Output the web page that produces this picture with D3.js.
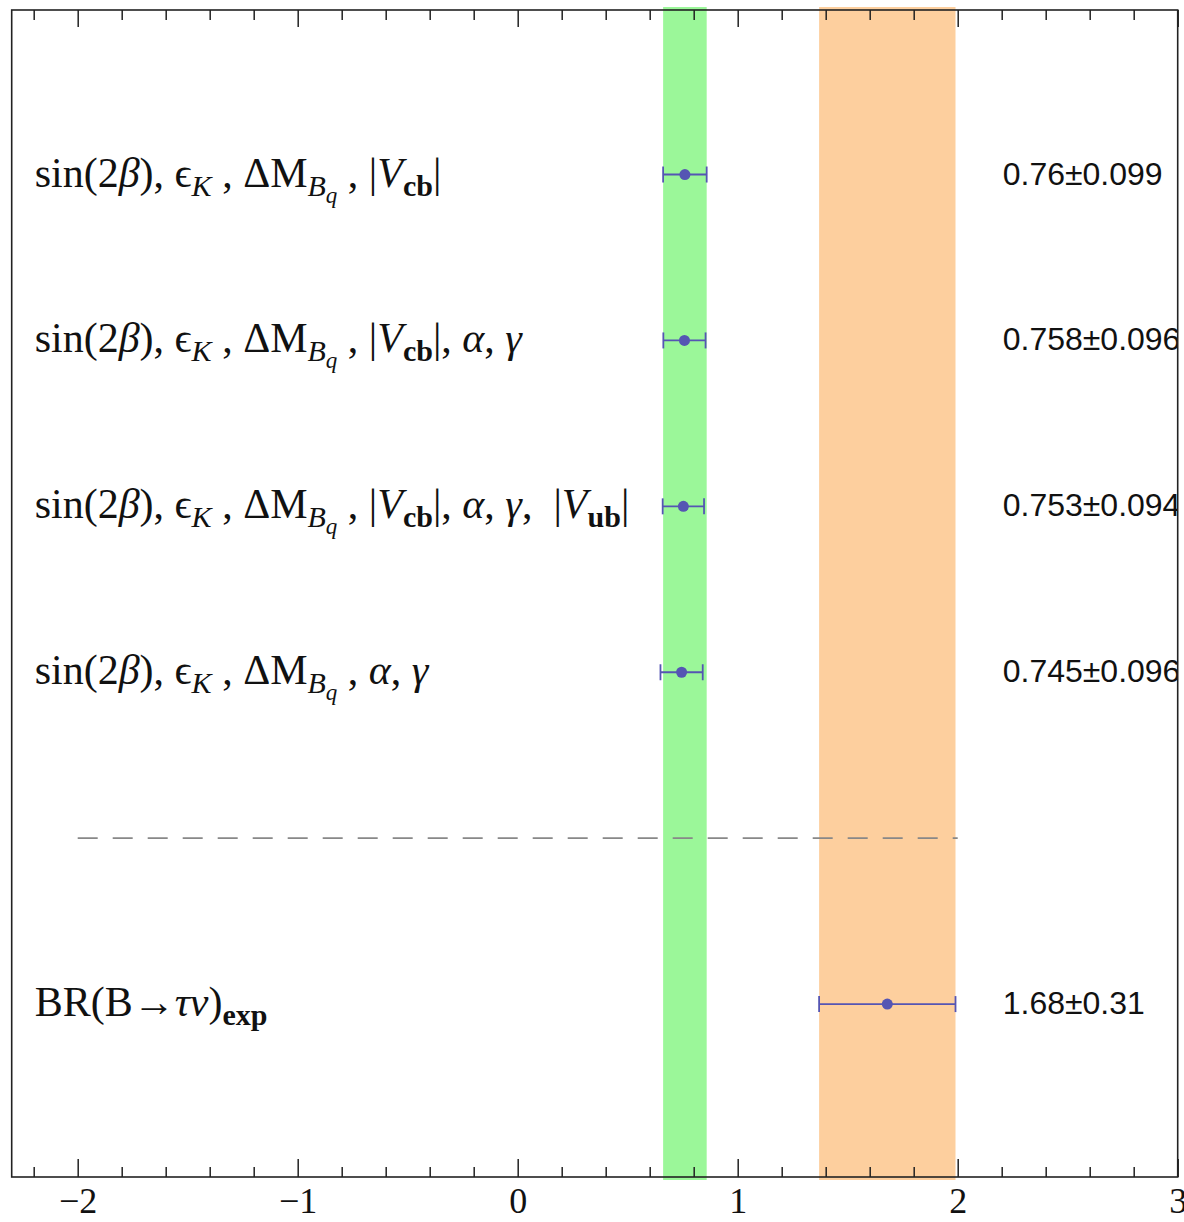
<!DOCTYPE html>
<html>
<head>
<meta charset="utf-8">
<script src="https://cdn.jsdelivr.net/npm/d3@7"></script>
<style>
  body { margin: 0; background: #fff; }
</style>
</head>
<body>
<div id="chart"></div>
<script>
// row labels, light markup: *..* italic, _{..} subscript, !{..} bold
var labels = [
  "sin(2*β*), ϵ_{*K*} , ΔM_{*B*_{*q*}} , |*V*_{!{cb}}|",
  "sin(2*β*), ϵ_{*K*} , ΔM_{*B*_{*q*}} , |*V*_{!{cb}}|, *α*, *γ*",
  "sin(2*β*), ϵ_{*K*} , ΔM_{*B*_{*q*}} , |*V*_{!{cb}}|, *α*, *γ*,  |*V*_{!{ub}}|",
  "sin(2*β*), ϵ_{*K*} , ΔM_{*B*_{*q*}} , *α*, *γ*",
  "BR(B→*τν*)_{!{exp}}"
];
var rowPos = [6, 5, 4, 3, 1];
var centers = [0.76, 0.758, 0.753, 0.745, 1.68];
var errors = [0.099, 0.096, 0.094, 0.096, 0.31];

// shaded bands
var bandCenters = [0.76, 1.68];
var bandErrors = [0.099, 0.31];
var bandColors = ["#9bf799", "#fdcf9e"];

var separatorY = 2;
var separatorX = [-2, 2];

var majorTicks = [-2, -1, 0, 1, 2, 3];
var minorTicks = d3.range(-11, 15).map(function(i) { return i / 5; })
  .filter(function(v) { return Math.abs(v - Math.round(v)) > 1e-9; });

var W = 1184, H = 1222;
var pLeft = 11.7, pRight = 1177.7, pTop = 10, pBottom = 1177;

var svg = d3.select("#chart").append("svg")
  .attr("width", W)
  .attr("height", H);

var x = d3.scaleLinear().domain([-2.3, 3]).range([pLeft, pRight]);
var y = d3.scaleLinear().domain([0, 7]).range([1170, 8.6]);

svg.append("defs").append("clipPath").attr("id", "plotclip")
  .append("rect")
    .attr("x", pLeft).attr("y", pTop)
    .attr("width", pRight - pLeft).attr("height", pBottom - pTop);

// bands
svg.selectAll(".band")
  .data(bandCenters)
  .enter().append("rect")
    .attr("x", function(d, i) { return x(d - bandErrors[i]); })
    .attr("width", function(d, i) { return x(d + bandErrors[i]) - x(d - bandErrors[i]); })
    .attr("y", pTop - 3)
    .attr("height", pBottom - pTop + 6)
    .attr("fill", function(d, i) { return bandColors[i]; });

// dashed separator
svg.append("line")
  .attr("x1", x(separatorX[0])).attr("x2", x(separatorX[1]))
  .attr("y1", y(separatorY)).attr("y2", y(separatorY))
  .attr("stroke", "#888")
  .attr("stroke-width", 1.6)
  .attr("stroke-dasharray", "20,15");

// error bars
var dotColor = "#5555b3";
var pts = svg.selectAll(".pt")
  .data(centers)
  .enter().append("g");
pts.append("line")
  .attr("x1", function(d, i) { return x(d - errors[i]); })
  .attr("x2", function(d, i) { return x(d + errors[i]); })
  .attr("y1", function(d, i) { return y(rowPos[i]); })
  .attr("y2", function(d, i) { return y(rowPos[i]); })
  .attr("stroke", dotColor).attr("stroke-width", 1.8);
[-1, 1].forEach(function(s) {
  pts.append("line")
    .attr("x1", function(d, i) { return x(d + s * errors[i]); })
    .attr("x2", function(d, i) { return x(d + s * errors[i]); })
    .attr("y1", function(d, i) { return y(rowPos[i]) - 8; })
    .attr("y2", function(d, i) { return y(rowPos[i]) + 8; })
    .attr("stroke", dotColor).attr("stroke-width", 1.8);
});
pts.append("circle")
  .attr("cx", function(d) { return x(d); })
  .attr("cy", function(d, i) { return y(rowPos[i]); })
  .attr("r", 5.5)
  .attr("fill", dotColor);

// value labels (clipped by frame)
svg.append("g").attr("clip-path", "url(#plotclip)")
  .selectAll("text")
  .data(centers)
  .enter().append("text")
    .attr("x", x(2.2) + 1)
    .attr("y", function(d, i) { return y(rowPos[i]) + 10; })
    .style("font-family", "'Liberation Sans', Arial, sans-serif")
    .style("font-size", "32px")
    .attr("fill", "#111")
    .text(function(d, i) { return d + "±" + errors[i]; });

// parse label markup into segments
function parse(str) {
  var segs = [], i = 0;
  function walk(lv, it, bd) {
    var buf = "";
    function flush() { if (buf) { segs.push({t: buf, it: it, bd: bd, lv: lv}); buf = ""; } }
    while (i < str.length) {
      var c = str[i];
      if (c === "}") { flush(); i++; return; }
      if (c === "*") { flush(); it = !it; i++; continue; }
      if (c === "_" && str[i + 1] === "{") { flush(); i += 2; walk(lv + 1, it, bd); continue; }
      if (c === "!" && str[i + 1] === "{") { flush(); i += 2; walk(lv, it, true); continue; }
      buf += c; i++;
    }
    flush();
  }
  walk(0, false, false);
  return segs;
}

var sizes = [42, 30, 23], shifts = [0, 9, 16];
labels.forEach(function(lab, k) {
  var t = svg.append("text")
    .attr("x", x(-2.2) + 1)
    .attr("y", y(rowPos[k]) + 12)
    .style("font-family", "'Liberation Serif', 'Times New Roman', serif")
    .style("white-space", "pre")
    .attr("fill", "#111");
  var cur = 0;
  parse(lab).forEach(function(s) {
    t.append("tspan")
      .attr("dy", shifts[s.lv] - cur)
      .style("font-size", sizes[s.lv] + "px")
      .style("font-style", s.it ? "italic" : "normal")
      .style("font-weight", s.bd ? "bold" : "normal")
      .text(s.t);
    cur = shifts[s.lv];
  });
});

// frame
svg.append("rect")
  .attr("x", pLeft).attr("y", pTop)
  .attr("width", pRight - pLeft).attr("height", pBottom - pTop)
  .attr("fill", "none")
  .attr("stroke", "#222")
  .attr("stroke-width", 1.6);

// ticks, pointing inward on top and bottom
function styleAxis(g) {
  g.select(".domain").remove();
  g.selectAll(".tick line").attr("stroke", "#222").attr("stroke-width", 1.5);
}
svg.append("g")
  .attr("transform", "translate(0," + pBottom + ")")
  .call(d3.axisBottom(x).tickValues(majorTicks).tickSize(-18).tickPadding(10)
    .tickFormat(d3.format("d")))
  .call(styleAxis)
  .selectAll("text")
    .style("font-family", "'Liberation Serif', 'Times New Roman', serif")
    .style("font-size", "36px")
    .attr("fill", "#111");
svg.append("g")
  .attr("transform", "translate(0," + pBottom + ")")
  .call(d3.axisBottom(x).tickValues(minorTicks).tickSize(-10).tickFormat(""))
  .call(styleAxis);
svg.append("g")
  .attr("transform", "translate(0," + pTop + ")")
  .call(d3.axisTop(x).tickValues(majorTicks).tickSize(-17).tickFormat(""))
  .call(styleAxis);
svg.append("g")
  .attr("transform", "translate(0," + pTop + ")")
  .call(d3.axisTop(x).tickValues(minorTicks).tickSize(-10).tickFormat(""))
  .call(styleAxis);
</script>
</body>
</html>
